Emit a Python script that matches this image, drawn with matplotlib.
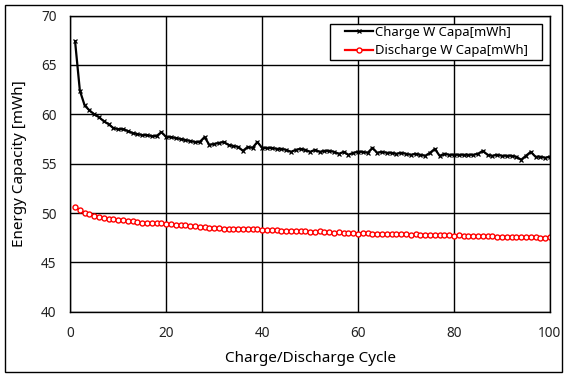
import matplotlib
matplotlib.use('Agg')
import matplotlib.pyplot as plt
from matplotlib.patches import Rectangle

# %% data
cycles = list(range(1, 101))
charge = [67.4, 62.4, 60.9, 60.4, 60.0, 59.7, 59.3, 59.0, 58.6, 58.5,
          58.5, 58.3, 58.1, 58.0, 57.9, 57.9, 57.8, 57.8, 58.2, 57.7,
          57.7, 57.6, 57.5, 57.4, 57.3, 57.2, 57.2, 57.7, 56.9, 57.0,
          57.1, 57.2, 56.9, 56.8, 56.7, 56.3, 56.7, 56.6, 57.2, 56.6,
          56.6, 56.6, 56.5, 56.5, 56.4, 56.2, 56.4, 56.5, 56.4, 56.2,
          56.4, 56.2, 56.3, 56.3, 56.2, 56.0, 56.2, 55.9, 56.1, 56.2,
          56.2, 56.1, 56.6, 56.1, 56.2, 56.1, 56.1, 56.0, 56.1, 56.0,
          55.9, 56.0, 55.9, 55.8, 56.1, 56.5, 55.8, 56.0, 55.9, 55.9,
          55.9, 55.9, 55.9, 55.9, 56.0, 56.3, 55.9, 55.8, 55.9, 55.8,
          55.8, 55.8, 55.7, 55.4, 55.8, 56.2, 55.7, 55.7, 55.6, 55.7]
discharge = [50.6, 50.3, 50.0, 49.9, 49.7, 49.6, 49.5, 49.4, 49.35, 49.3,
             49.25, 49.2, 49.15, 49.05, 49.0, 49.0, 48.95, 48.95, 48.95, 48.9,
             48.85, 48.8, 48.8, 48.75, 48.7, 48.65, 48.6, 48.55, 48.5, 48.5,
             48.45, 48.4, 48.4, 48.4, 48.4, 48.4, 48.35, 48.4, 48.35, 48.3,
             48.3, 48.25, 48.25, 48.2, 48.2, 48.2, 48.2, 48.15, 48.15, 48.1,
             48.1, 48.15, 48.05, 48.1, 48.0, 48.05, 48.0, 48.0, 47.95, 47.9,
             47.95, 48.0, 47.9, 47.9, 47.9, 47.85, 47.9, 47.85, 47.85, 47.85,
             47.8, 47.85, 47.8, 47.8, 47.8, 47.75, 47.8, 47.75, 47.75, 47.7,
             47.75, 47.7, 47.7, 47.7, 47.65, 47.7, 47.65, 47.65, 47.6, 47.6,
             47.6, 47.6, 47.55, 47.55, 47.55, 47.55, 47.55, 47.5, 47.5, 47.55]

# %%
plt.rcParams['font.family'] = ['Noto Sans', 'DejaVu Sans']
fig = plt.figure(figsize=(5.69, 3.80), dpi=100)
ax = fig.add_axes([0.1235, 0.1795, 0.8430, 0.7795])

ax.plot(cycles, charge, color='black', lw=1.6, marker='x', ms=3.2, mew=0.9,
        label='Charge W Capa[mWh]')
ax.plot(cycles, discharge, color='red', lw=1.6, marker='o', ms=3.6, mew=1.0,
        mfc='white', label='Discharge W Capa[mWh]')

ax.set_xlim(0, 100)
ax.set_ylim(40, 70)
ax.set_xticks(range(0, 101, 20))
ax.set_yticks(range(40, 71, 5))
ax.grid(True, color='black', lw=1)
ax.tick_params(length=0, labelsize=9.8, colors='#222222', pad=10)
for s in ax.spines.values():
    s.set_color('black')
    s.set_linewidth(1)

ax.set_xlabel('Charge/Discharge Cycle', fontsize=11, labelpad=7.5)
ax.set_ylabel('Energy Capacity [mWh]', fontsize=11, labelpad=10)

# legend box is wider than its content, like the spreadsheet one
ax.add_patch(Rectangle((0.541, 0.850), 0.442, 0.121, transform=ax.transAxes,
                       facecolor='white', edgecolor='black', lw=1, zorder=4))
leg = ax.legend(loc='upper left', bbox_to_anchor=(0.573, 0.965), fontsize=9.4,
                frameon=False, borderpad=0, handlelength=2.15, handletextpad=0.15,
                labelspacing=0.42, borderaxespad=0)
leg.set_zorder(5)

# outer chart border
fig.patches.append(Rectangle((5 / 569, 1 - 372 / 380), 557 / 569, 367 / 380,
                             transform=fig.transFigure, fill=False,
                             edgecolor='black', lw=1))

fig.savefig('out.png', dpi=100)
